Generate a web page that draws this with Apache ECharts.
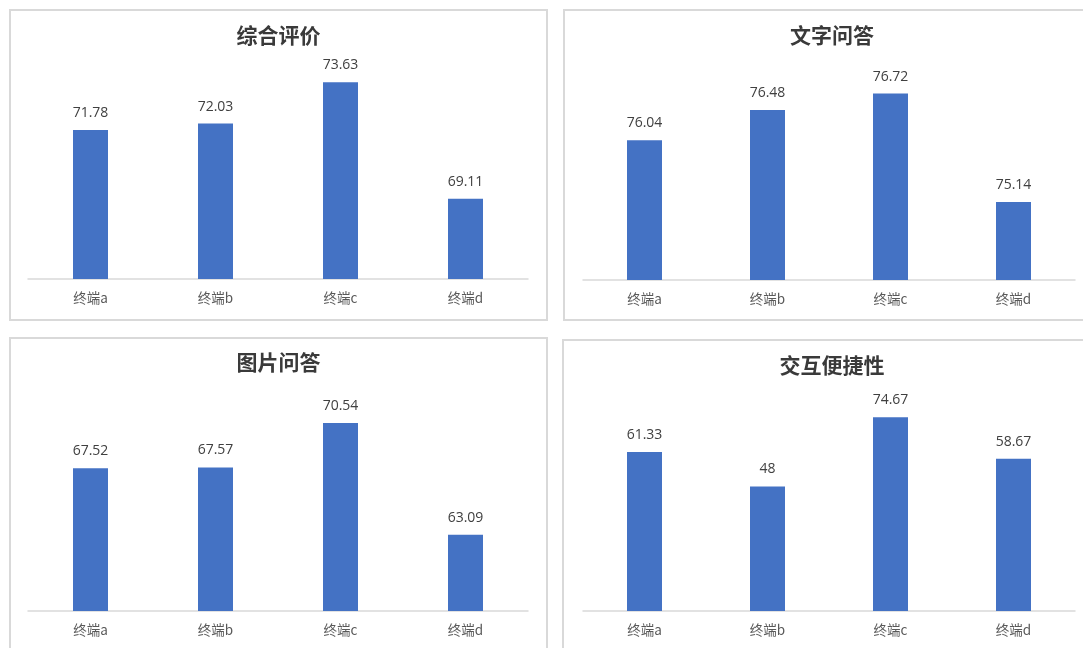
<!DOCTYPE html>
<html>
<head>
<meta charset="utf-8">
<script src="https://cdn.jsdelivr.net/npm/echarts@6/dist/echarts.min.js"></script>
<style>
html,body{margin:0;padding:0;background:#fff;}
#c{width:1083px;height:648px;}
</style>
</head>
<body>
<div id="c"></div>
<script>
const categories = ['终端a', '终端b', '终端c', '终端d'];
const titles = ['综合评价', '文字问答', '图片问答', '交互便捷性'];
const overall = [71.78, 72.03, 73.63, 69.11];
const textQA = [76.04, 76.48, 76.72, 75.14];
const imageQA = [67.52, 67.57, 70.54, 63.09];
const interaction = [61.33, 48, 74.67, 58.67];
const seriesData = [overall, textQA, imageQA, interaction];
const yMin = [66, 74, 58, 0];
const yMax = [75, 77.4, 74, 90];

const grids = [
  {left: 28, top: 47, width: 500, height: 232},
  {left: 583, top: 47, width: 492, height: 233},
  {left: 28, top: 371, width: 500, height: 240},
  {left: 583, top: 377.5, width: 492, height: 233.5}
];
const panels = [
  {x: 10, y: 10, w: 537, h: 310},
  {x: 564, y: 10, w: 540, h: 310},
  {x: 10, y: 338, w: 537, h: 320},
  {x: 563, y: 340, w: 540, h: 320}
];
const titlePos = [
  {x: 278.5, y: 25},
  {x: 832, y: 25},
  {x: 278.5, y: 352},
  {x: 832, y: 355}
];

const chart = echarts.init(document.getElementById('c'));
const option = {
  backgroundColor: '#ffffff',
  animation: false,
  graphic: panels.map(p => ({
    type: 'rect', silent: true, z: -1,
    shape: {x: p.x, y: p.y, width: p.w, height: p.h},
    style: {fill: '#ffffff', stroke: '#d9d9d9', lineWidth: 2}
  })),
  title: titles.map((t, i) => ({
    text: t,
    left: titlePos[i].x,
    top: titlePos[i].y,
    textAlign: 'center',
    padding: 0,
    textStyle: {
      fontFamily: '"Noto Sans CJK SC", sans-serif',
      fontWeight: 'bold',
      fontSize: 21,
      color: '#3a3a3a'
    }
  })),
  grid: grids,
  xAxis: grids.map((g, i) => ({
    type: 'category',
    gridIndex: i,
    data: categories,
    axisLine: {lineStyle: {color: '#d9d9d9', width: 1.5}},
    axisTick: {show: false},
    axisLabel: {
      color: '#595959',
      fontSize: 13.5,
      margin: 12,
      fontFamily: '"Noto Sans CJK SC", sans-serif'
    }
  })),
  yAxis: grids.map((g, i) => ({
    type: 'value',
    gridIndex: i,
    min: yMin[i],
    max: yMax[i],
    show: false,
    splitLine: {show: false}
  })),
  series: seriesData.map((d, i) => ({
    type: 'bar',
    xAxisIndex: i,
    yAxisIndex: i,
    data: d,
    barWidth: 35,
    itemStyle: {color: '#4472c4'},
    label: {
      show: true,
      position: 'top',
      distance: 10,
      color: '#404040',
      fontSize: 14,
      fontFamily: '"Open Sans", "Noto Sans", sans-serif'
    }
  }))
};
chart.setOption(option);
</script>
</body>
</html>
